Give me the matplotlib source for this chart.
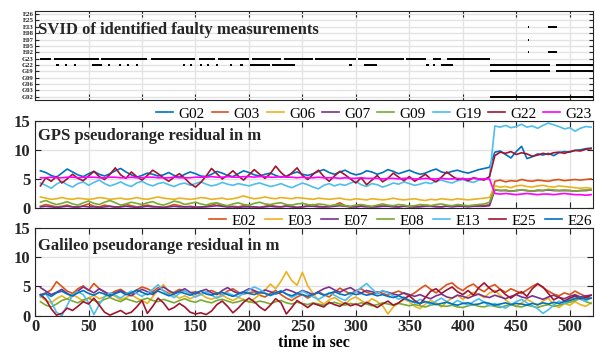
import matplotlib
matplotlib.use('Agg')
import matplotlib.pyplot as plt

plt.rcParams['font.family'] = ['Liberation Serif', 'DejaVu Serif']

# time axis of the residual series (seconds)
time = list(range(5, 521, 5))

# ---- GPS pseudorange residuals (m) ----
gps_labels = ['G02', 'G03', 'G06', 'G07', 'G09', 'G19', 'G22', 'G23']
gps_colors = ['#0072BD', '#D95319', '#EDB120', '#7E2F8E', '#77AC30', '#4DBEEE', '#A2142F', '#FF00FF']

g02 = [6.4, 6.1, 5.6, 5.3, 6.0, 6.7, 6.2, 5.7, 5.4, 5.9,
       6.3, 5.8, 5.5, 5.9, 6.4, 6.8, 6.2, 5.7, 5.3, 5.6,
       6.0, 5.8, 5.5, 5.7, 6.1, 5.6, 5.3, 5.8, 6.2, 5.9,
       5.5, 5.4, 5.8, 6.3, 6.0, 5.6, 5.4, 5.9, 6.4, 6.1,
       5.7, 5.5, 5.8, 6.0, 5.6, 5.3, 5.5, 5.9, 6.2, 5.8,
       5.6, 5.9, 6.3, 6.6, 6.1, 5.8, 6.2, 6.5, 6.0, 5.7,
       5.9, 6.4, 6.2, 5.8, 6.1, 6.6, 6.3, 5.9, 6.2, 6.5,
       6.1, 5.8, 6.0, 6.4, 6.7, 6.2, 6.0, 6.3, 6.5, 6.2,
       6.0, 6.3, 6.6, 6.8, 7.0,
       9.6, 9.8, 9.2, 8.6, 9.7, 10.6, 8.5, 8.8, 9.3, 9.1,
       9.4, 9.0, 9.5, 9.7, 9.6, 9.9, 10.0, 10.2, 10.3]
g03 = [0.3, 0.6, 0.4, 0.2, 0.3, 0.5, 0.2, 0.1, 0.4, 0.7,
       0.3, 0.2, 0.5, 0.3, 0.1, 0.2, 0.6, 0.4, 0.2, 0.3,
       0.5, 0.3, 0.2, 0.1, 0.3, 0.6, 0.4, 0.2, 0.3, 0.2,
       0.1, 0.3, 0.5, 0.8, 0.4, 0.2, 0.3, 0.2, 0.4, 0.3,
       0.2, 0.1, 0.3, 0.5, 0.3, 0.2, 0.4, 0.3, 0.1, 0.2,
       0.4, 0.6, 0.3, 0.2, 0.3, 0.5, 0.9, 0.4, 0.2, 0.3,
       0.5, 0.4, 0.2, 0.3, 0.6, 0.4, 0.3, 0.2, 0.4, 0.3,
       0.2, 0.3, 0.5, 0.4, 0.3, 0.2, 0.4, 0.3, 0.5, 0.4,
       0.3, 0.4, 0.5, 0.4, 0.6,
       4.6, 4.8, 4.5, 4.7, 4.6, 4.9, 4.7, 4.6, 4.8, 4.7,
       4.6, 4.8, 4.9, 4.7, 4.8, 4.9, 4.8, 4.9, 5.0]
g06 = [1.9, 1.7, 1.5, 1.6, 1.8, 1.6, 1.5, 1.7, 1.6, 1.5,
       1.6, 1.8, 1.7, 1.5, 1.6, 1.7, 1.5, 1.6, 1.8, 1.6,
       1.5, 1.7, 1.9, 1.7, 1.6, 1.5, 1.7, 1.6, 1.5, 1.6,
       1.8, 1.7, 1.5, 1.6, 1.7, 1.5, 1.6, 1.8, 2.1, 1.8,
       1.6, 1.7, 1.9, 1.7, 1.6, 1.8, 1.7, 1.6, 1.8, 1.7,
       1.6, 1.5, 1.7, 1.6, 1.5, 1.6, 1.7, 1.5, 1.4, 1.6,
       1.5, 1.4, 1.6, 1.5, 1.4, 1.5, 1.7, 1.5, 1.4, 1.5,
       1.6, 1.4, 1.3, 1.5, 1.4, 1.6, 1.5, 1.4, 1.6, 1.5,
       1.4, 1.5, 1.6, 1.7, 1.8,
       3.8, 3.6, 3.7, 3.5, 3.8, 3.9, 3.7, 3.6, 3.8, 3.9,
       3.7, 3.6, 3.8, 3.7, 3.6, 3.5, 3.4, 3.5, 3.4]
g07 = [0.2, 0.3, 0.2, 0.1, 0.2, 0.3, 0.2, 0.2, 0.3, 0.2,
       0.2, 0.1, 0.2, 0.3, 0.2, 0.2, 0.3, 0.2, 0.1, 0.2,
       0.3, 0.2, 0.2, 0.1, 0.2, 0.3, 0.2, 0.2, 0.2, 0.1,
       0.2, 0.2, 0.3, 0.4, 0.3, 0.2, 0.2, 0.1, 0.2, 0.2,
       0.2, 0.1, 0.2, 0.3, 0.2, 0.2, 0.3, 0.2, 0.1, 0.2,
       0.3, 0.3, 0.2, 0.2, 0.2, 0.3, 0.4, 0.3, 0.2, 0.2,
       0.3, 0.2, 0.2, 0.2, 0.3, 0.3, 0.2, 0.2, 0.3, 0.2,
       0.2, 0.2, 0.3, 0.3, 0.2, 0.2, 0.3, 0.2, 0.3, 0.3,
       0.2, 0.3, 0.3, 0.3, 0.4,
       3.1, 3.0, 3.0, 2.9, 3.0, 3.1, 3.0, 2.9, 3.0, 3.0,
       3.1, 3.0, 3.0, 3.0, 3.0, 2.9, 3.0, 3.0, 3.1]
g09 = [1.0, 1.3, 0.9, 0.6, 0.8, 1.1, 0.7, 0.5, 0.9, 1.2,
       0.8, 0.6, 1.0, 1.3, 0.9, 0.5, 0.7, 1.0, 0.8, 0.6,
       0.9, 1.1, 0.7, 0.5, 0.8, 1.2, 1.0, 0.6, 0.8, 1.0,
       0.7, 0.5, 0.8, 0.9, 0.6, 0.4, 0.7, 0.9, 0.6, 0.5,
       0.8, 1.0, 0.7, 0.6, 0.8, 0.9, 0.6, 0.5, 0.7, 0.8,
       0.6, 0.5, 0.7, 0.6, 0.4, 0.5, 0.6, 0.4, 0.3, 0.5,
       0.6, 0.4, 0.3, 0.5, 0.7, 0.5, 0.4, 0.6, 0.5, 0.3,
       0.4, 0.6, 0.5, 0.4, 0.6, 0.7, 0.5, 0.4, 0.6, 0.5,
       0.4, 0.5, 0.6, 0.7, 1.0,
       3.2, 3.0, 3.1, 2.9, 3.0, 3.1, 3.0, 2.9, 3.1, 3.0,
       3.2, 3.1, 3.0, 3.1, 3.0, 2.9, 3.0, 3.1, 3.1]
g19 = [4.3, 3.9, 3.4, 4.1, 4.6, 4.0, 3.6, 4.2, 4.5, 3.9,
       4.4, 4.8, 4.2, 3.8, 4.1, 4.5, 4.0, 3.7, 4.3, 4.6,
       4.1, 3.8, 4.2, 4.4, 4.0, 3.7, 4.1, 4.3, 3.9, 4.2,
       4.5, 4.1, 3.8, 4.0, 4.4, 4.1, 3.9, 4.2, 4.0, 3.8,
       4.1, 4.3, 4.0, 3.7, 3.9, 4.2, 3.8, 3.5, 3.9, 4.3,
       4.0, 3.6, 3.3, 3.9, 4.2, 3.8, 4.1, 3.9, 4.3, 4.6,
       4.0, 3.7, 4.2, 4.0, 3.6, 3.9, 4.3, 4.1, 4.5, 4.2,
       3.9, 4.1, 4.4, 4.2, 4.6, 4.8, 4.5, 4.3, 4.7, 4.9,
       4.6, 4.4, 4.8, 5.0, 5.3,
       14.1, 13.9, 14.2, 13.8, 14.0, 14.4, 13.9, 14.1, 13.7, 14.2,
       14.6, 14.3, 14.0, 13.6, 13.8, 13.2, 13.7, 14.0, 13.9]
g22 = [3.8, 5.2, 4.6, 5.4, 4.3, 5.0, 5.8, 5.1, 4.7, 5.5,
       6.3, 5.4, 4.9, 5.8, 6.9, 5.7, 5.1, 6.2, 5.4, 4.8,
       5.6, 6.5, 5.9, 5.2, 4.6, 5.3, 5.9, 5.1, 4.2, 3.6,
       4.4, 5.5, 6.8, 5.9, 5.0, 5.6, 6.4, 5.5, 4.8, 5.7,
       6.6, 5.8, 5.1, 5.9, 7.2, 6.1, 5.3, 6.0, 6.9, 5.6,
       4.9, 5.8, 6.5, 5.4, 4.6, 5.5, 6.3, 5.7, 5.0, 4.3,
       5.2, 4.0, 4.8, 5.6, 4.5, 5.1, 6.0, 5.3, 4.7, 5.4,
       4.6, 5.2, 5.8, 5.0, 4.5, 5.3, 6.2, 5.5, 4.9, 5.1,
       4.7, 5.2, 5.0, 4.8, 5.4,
       9.0, 9.6, 9.4, 9.7, 9.2, 9.5, 9.3, 8.9, 9.1, 9.4,
       9.2, 9.5, 9.6, 9.4, 9.7, 9.9, 9.8, 10.1, 10.2]
g23 = [5.2, 5.2, 5.3, 5.2, 5.2, 5.3, 5.3, 5.2, 5.3, 5.3,
       5.3, 5.2, 5.2, 5.3, 5.3, 5.2, 5.2, 5.3, 5.2, 5.2,
       5.3, 5.3, 5.2, 5.2, 5.2, 5.3, 5.2, 5.2, 5.2, 5.3,
       5.3, 5.3, 5.4, 5.3, 5.3, 5.4, 5.3, 5.3, 5.4, 5.4,
       5.3, 5.4, 5.4, 5.3, 5.3, 5.4, 5.3, 5.3, 5.2, 5.3,
       5.2, 5.2, 5.3, 5.2, 5.2, 5.2, 5.1, 5.2, 5.1, 5.1,
       5.2, 5.1, 5.1, 5.1, 5.0, 5.1, 5.1, 5.0, 5.1, 5.1,
       5.0, 5.0, 5.1, 5.0, 5.0, 5.1, 5.0, 5.0, 5.1, 5.0,
       5.0, 5.1, 5.0, 5.0, 5.0,
       2.5, 2.4, 2.5, 2.4, 2.3, 2.4, 2.5, 2.4, 2.3, 2.4,
       2.4, 2.3, 2.4, 2.5, 2.4, 2.3, 2.3, 2.2, 2.3]
gps_series = [g02, g03, g06, g07, g09, g19, g22, g23]

# ---- Galileo pseudorange residuals (m) ----
gal_labels = ['E02', 'E03', 'E07', 'E08', 'E13', 'E25', 'E26']
gal_colors = ['#D95319', '#EDB120', '#7E2F8E', '#77AC30', '#4DBEEE', '#A2142F', '#0072BD']

e02 = [3.6, 3.9, 4.4, 5.8, 5.0, 4.2, 3.8, 4.6, 5.1, 4.3,
       5.5, 4.6, 4.0, 3.7, 4.2, 4.5, 3.9, 3.6, 4.4, 4.9,
       4.6, 4.1, 4.8, 4.3, 3.8, 4.0, 4.5, 4.2, 3.9, 4.1,
       3.7, 4.0, 4.3, 3.9, 3.6, 4.2, 4.6, 4.0, 3.7, 3.9,
       4.1, 3.5, 3.2, 3.8, 4.3, 3.6, 3.0, 2.6, 3.2, 3.6,
       3.0, 3.5, 4.1, 3.6, 3.2, 4.0, 4.7, 4.2, 3.7, 4.3,
       4.6, 4.0, 3.7, 4.1, 3.8, 3.5, 3.9, 4.2, 3.8, 3.4,
       3.9, 4.6, 5.2, 4.5, 3.9, 4.6, 5.3, 5.6, 4.8, 4.3,
       5.0, 5.4, 4.6, 4.1, 4.9, 5.3, 4.5, 4.0, 4.6, 4.2,
       3.8, 4.4, 5.0, 5.5, 4.8, 4.2, 3.7, 3.4, 3.9, 3.6,
       4.2, 3.7, 3.3, 3.0]
e03 = [3.3, 2.6, 2.2, 2.9, 3.4, 2.8, 3.6, 3.1, 2.5, 3.0,
       3.5, 2.9, 3.2, 3.7, 3.3, 2.7, 3.1, 3.6, 3.0, 2.6,
       2.1, 3.2, 4.4, 5.3, 4.1, 3.5, 3.0, 3.4, 2.9, 3.3,
       3.7, 3.1, 2.8, 3.2, 3.5, 3.0, 2.6, 3.1, 2.8, 2.3,
       2.9, 3.6, 4.3, 5.4, 4.6, 5.9, 7.5, 6.0, 5.2, 7.4,
       5.1, 3.8, 2.6, 2.0, 2.7, 3.1, 2.5, 2.0, 2.8, 3.2,
       2.6, 2.1, 2.9, 2.4, 1.7, 0.3, 1.5, 2.2, 2.8, 2.4,
       1.6, 1.2, 2.0, 2.6, 2.2, 1.5, 2.4, 3.0, 3.5, 2.8,
       3.4, 4.0, 3.6, 3.1, 3.9, 4.3, 3.5, 2.7, 2.0, 1.6,
       2.2, 2.8, 2.3, 1.7, 2.5, 3.0, 1.9, 1.4, 2.1, 1.8,
       2.4, 1.9, 1.6, 2.2]
e07 = [4.8, 4.2, 3.6, 4.0, 4.5, 3.8, 3.3, 4.2, 4.9, 4.4,
       3.9, 4.6, 4.1, 3.5, 3.9, 4.3, 3.7, 3.4, 4.0, 4.5,
       4.1, 3.6, 4.4, 4.9, 4.3, 3.8, 4.2, 4.6, 4.0, 3.7,
       4.2, 4.5, 3.9, 3.6, 4.3, 4.8, 4.2, 3.8, 4.1, 4.6,
       4.3, 3.9, 4.4, 4.1, 3.7, 4.0, 4.5, 4.2, 3.8, 4.3,
       4.0, 3.6, 4.1, 4.6, 4.9, 4.4, 4.0, 4.5, 4.8, 4.2,
       3.9, 4.3, 4.1, 3.8, 4.2, 4.0, 3.7, 3.5, 3.9, 3.6,
       3.3, 3.6, 3.2, 2.9, 3.4, 3.7, 3.2, 3.0, 3.5, 3.3,
       3.0, 3.4, 3.7, 3.3, 3.1, 3.5, 3.2, 2.9, 3.3, 3.6,
       3.2, 3.0, 3.4, 3.1, 2.8, 3.2, 3.5, 3.1, 2.9, 3.3,
       3.6, 3.2, 3.4, 3.5]
e08 = [2.4, 1.8, 1.5, 2.0, 2.6, 2.9, 2.5, 2.2, 2.7, 3.0,
       2.6, 2.3, 2.8, 3.1, 2.7, 2.4, 2.9, 2.6, 2.3, 2.7,
       3.0, 2.6, 2.4, 2.8, 2.5, 2.2, 2.6, 2.9, 2.5, 2.3,
       2.7, 2.4, 2.2, 2.6, 2.8, 2.5, 2.2, 2.4, 2.7, 2.4,
       2.2, 2.5, 2.3, 2.0, 2.4, 2.6, 2.2, 2.0, 2.3, 2.1,
       1.9, 2.2, 2.0, 1.8, 2.1, 2.3, 2.0, 1.8, 2.1, 1.9,
       2.2, 2.0, 1.7, 1.9, 2.2, 2.0, 1.8, 2.1, 1.9, 1.7,
       1.9, 1.7, 1.5, 1.8, 2.0, 1.7, 1.6, 1.8, 1.5, 1.4,
       1.7, 1.9, 1.6, 1.5, 1.8, 1.6, 1.4, 1.7, 1.9, 1.6,
       1.5, 1.8, 1.6, 1.4, 1.7, 1.9, 1.6, 1.8, 2.1, 2.3,
       2.6, 2.9, 2.4, 2.1]
e13 = [3.2, 3.8, 2.4, 0.6, 0.0, 1.8, 3.5, 4.1, 3.6, 2.2,
       0.2, 1.9, 3.3, 3.9, 3.5, 3.0, 3.7, 4.2, 3.8, 3.3,
       3.9, 4.5, 5.3, 4.2, 3.6, 3.1, 3.8, 4.3, 3.7, 3.2,
       3.6, 4.1, 3.5, 3.0, 3.4, 3.9, 3.5, 3.2, 3.8, 4.4,
       4.9, 4.5, 3.9, 3.4, 3.8, 4.3, 3.7, 3.1, 3.6, 4.2,
       3.7, 3.2, 2.8, 3.3, 3.9, 3.5, 3.0, 2.6, 3.4, 4.1,
       4.8, 5.5, 4.6, 3.8, 4.3, 3.9, 3.4, 2.8, 3.2, 2.6,
       2.2, 2.8, 2.4, 1.9, 2.5, 3.0, 2.4, 2.0, 2.6, 2.2,
       1.8, 2.4, 2.9, 2.3, 1.7, 2.1, 1.6, 1.3, 1.9, 2.4,
       2.8, 2.2, 1.7, 1.2, 0.4, 1.0, 1.8, 2.5, 2.1, 2.7,
       3.2, 2.8, 2.5, 3.1]
e25 = [3.6, 2.8, 1.2, 0.1, 0.4, 1.3, 0.9, 1.6, 2.4, 2.0,
       3.0, 1.8, 0.6, 0.1, 0.5, 0.9, 0.3, 0.6, 1.5, 2.6,
       0.4, 1.6, 3.0, 2.2, 1.0, 1.4, 2.1, 1.5, 0.6, 0.3,
       0.5, 0.2, 0.8, 1.9, 2.5, 1.6, 0.5, 1.3, 2.3, 3.0,
       2.4, 1.5, 0.9, 1.8, 2.9, 2.2, 0.3, 1.4, 2.6, 2.0,
       1.4, 2.1, 1.8, 1.5, 2.3, 1.9, 1.6, 2.2, 1.7, 2.0,
       1.6, 2.3, 1.9, 1.4, 2.0, 2.5, 1.8, 2.2, 2.9, 3.4,
       2.6, 2.0, 3.1, 4.2, 4.6, 3.8, 4.4, 4.9, 4.1, 3.6,
       4.3, 3.5, 4.8, 5.6, 4.7, 4.0, 4.5, 3.6, 3.0, 3.7,
       4.1, 3.3, 4.6, 5.4, 4.9, 3.8, 2.7, 3.2, 2.5, 3.0,
       3.4, 2.9, 3.1, 3.5]
e26 = [3.5, 3.8, 3.3, 3.9, 4.2, 3.7, 3.4, 3.9, 4.3, 3.8,
       3.5, 4.0, 3.7, 3.3, 3.8, 4.1, 3.6, 3.9, 4.4, 4.0,
       3.6, 3.9, 4.2, 3.8, 3.4, 3.7, 4.1, 3.8, 3.5, 3.9,
       4.2, 3.7, 3.5, 3.8, 4.0, 3.6, 3.3, 3.7, 4.0, 3.8,
       3.6, 4.0, 3.8, 3.5, 3.9, 4.2, 3.7, 3.4, 3.8, 3.6,
       3.3, 3.7, 3.9, 3.5, 3.8, 4.1, 3.7, 3.5, 3.9, 3.6,
       3.8, 3.5, 3.7, 3.4, 3.6, 3.3, 3.1, 3.4, 3.0, 2.6,
       2.3, 2.1, 2.4, 2.2, 1.9, 2.1, 2.3, 2.0, 1.8, 2.1,
       2.2, 1.9, 2.0, 2.3, 2.1, 1.8, 2.0, 2.2, 1.9, 2.1,
       2.0, 1.8, 2.1, 1.9, 2.2, 2.0, 2.3, 2.1, 2.4, 2.6,
       2.9, 3.1, 2.8, 3.0]
gal_series = [e02, e03, e07, e08, e13, e25, e26]

# ---- faulty measurements: SVID, start and end time (s) ----
svid_ticks = ['G02', 'G03', 'G06', 'G09', 'G19', 'G22', 'G23',
              'E02', 'E05', 'E07', 'E08', 'E13', 'E25', 'E26']
fault_svid = (['G23'] * 13
              + ['G22'] * 22
              + ['G22', 'G22', 'G19', 'G19', 'G02', 'E13', 'E02', 'E13', 'E07', 'E02'])
fault_start = [5, 18, 62, 108, 153, 171, 203, 233, 262, 302, 347, 372, 385,
               20, 28, 36, 53, 68, 78, 86, 94, 138, 145, 154, 161, 169, 182, 192, 201, 222, 294, 308, 366, 372, 380,
               425, 487, 425, 487, 425, 480, 480, 461, 461, 461]
fault_end = [15, 60, 105, 150, 168, 200, 230, 260, 300, 345, 366, 380, 425,
             22, 30, 38, 63, 70, 80, 88, 96, 140, 147, 156, 163, 171, 184, 194, 220, 243, 296, 320, 368, 374, 391,
             482, 522, 482, 522, 522, 488, 488, 462, 462, 462]

fig = plt.figure(figsize=(5.95, 3.52), dpi=100)
L, R = 0.059, 0.997
ax1 = fig.add_axes([L, 0.716, R - L, 0.253])
ax2 = fig.add_axes([L, 0.409, R - L, 0.248])
ax3 = fig.add_axes([L, 0.103, R - L, 0.250])

xt = list(range(0, 501, 50))
for ax in (ax1, ax2, ax3):
    ax.set_xlim(0, 522)
    ax.set_xticks(xt)
    ax.grid(True, color='#e3e3e3', lw=1.0)
    ax.set_axisbelow(True)
    ax.tick_params(direction='in', top=True, right=True, length=4, width=0.8, colors='#262626')
    for s in ax.spines.values():
        s.set_color('#262626')
        s.set_linewidth(0.8)

# top panel: faulty SVIDs
ypos = {name: i + 1 for i, name in enumerate(svid_ticks)}
for sv, t0, t1 in zip(fault_svid, fault_start, fault_end):
    ax1.plot([t0, t1], [ypos[sv], ypos[sv]], color='black', lw=1.4, solid_capstyle='butt')
ax1.set_ylim(0.5, 14.5)
ax1.set_yticks(range(1, 15))
ax1.set_yticklabels(svid_ticks, fontsize=4.8, fontweight='bold')
ax1.tick_params(axis='y', pad=1, length=3)
ax1.set_xticklabels([])
ax1.text(0.005, 0.74, 'SVID of identified faulty measurements', transform=ax1.transAxes,
         fontsize=12, fontweight='bold', color='#262626')

# middle panel: GPS
for y, c, lab in zip(gps_series, gps_colors, gps_labels):
    ax2.plot(time, y, color=c, lw=1.2, label=lab)
ax2.set_ylim(0, 15)
ax2.set_yticks([0, 5, 10, 15])
ax2.set_xticklabels([])
ax2.text(0.005, 0.78, 'GPS pseudorange residual in m', transform=ax2.transAxes,
         fontsize=12, fontweight='bold', color='#262626')
ax2.legend(loc='lower right', bbox_to_anchor=(1.0, 0.985), ncol=8, frameon=False,
           fontsize=11, handlelength=1.1, handletextpad=0.35, columnspacing=0.45,
           borderaxespad=0, borderpad=0.1)

# bottom panel: Galileo
for y, c, lab in zip(gal_series, gal_colors, gal_labels):
    ax3.plot(time, y, color=c, lw=1.2, label=lab)
ax3.set_ylim(0, 15)
ax3.set_yticks([0, 5, 10, 15])
ax3.text(0.005, 0.75, 'Galileo pseudorange residual in m', transform=ax3.transAxes,
         fontsize=12, fontweight='bold', color='#262626')
ax3.legend(loc='lower right', bbox_to_anchor=(1.0, 0.985), ncol=7, frameon=False,
           fontsize=11, handlelength=1.1, handletextpad=0.35, columnspacing=0.6,
           borderaxespad=0, borderpad=0.1)
ax3.set_xlabel('time in sec', fontsize=11.5, fontweight='bold', labelpad=0)
ax3.tick_params(axis='x', pad=2)

for ax in (ax2, ax3):
    for lbl in ax.get_yticklabels() + ax.get_xticklabels():
        lbl.set_fontsize(12)
        lbl.set_fontweight('bold')

fig.savefig('out.png', dpi=100)
